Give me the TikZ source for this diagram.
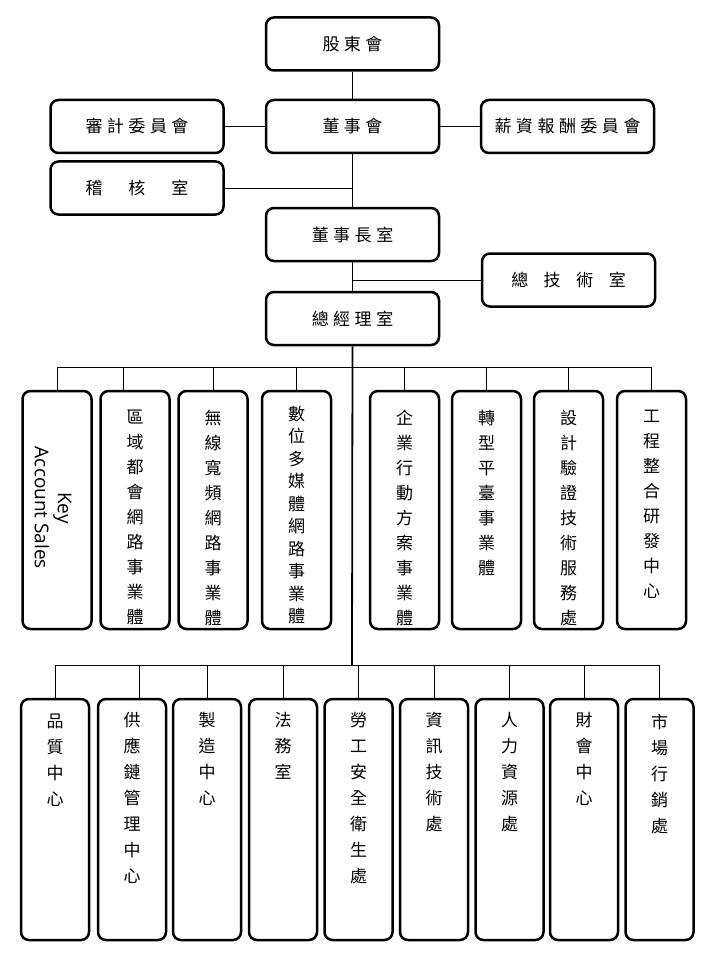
\documentclass[tikz,border=0pt]{standalone}
\usepackage{fontspec}
\newfontfamily\cjk{Noto Sans CJK TC}
\newfontfamily\latf{Open Sans}
\usetikzlibrary{calc}
\newcommand\kgap{\hspace{4.5pt}}
\begin{document}
\begin{tikzpicture}[x=1pt,y=-1pt,
 box/.style={draw, line width=2.5pt, rounded corners=8pt, inner sep=0pt, fill=white},
 topbox/.style={box, minimum width=173pt, minimum height=53pt, font=\cjk\fontsize{17}{20}\selectfont},
 rowa/.style={box, minimum width=69pt, minimum height=238pt},
 rowb/.style={box, minimum width=68pt, minimum height=241pt},
 vt/.style={anchor=north, inner sep=0pt, align=center, font=\cjk\fontsize{17}{25}\selectfont},
 vtb/.style={anchor=north, inner sep=0pt, align=center, font=\cjk\fontsize{17}{26}\selectfont},
 link/.style={line width=0.8pt},
 trunk/.style={line width=1.8pt}]
\useasboundingbox (0,0) rectangle (720,960);
% top section
\node[topbox] (sh) at (352.5,44) {股\kgap 東\kgap 會};
\node[topbox] (aud) at (137,126.5) {審\kgap 計\kgap 委\kgap 員\kgap 會};
\node[topbox] (bod) at (352.5,126.5) {董\kgap 事\kgap 會};
\node[topbox] (comp) at (567.5,126.5) {薪\kgap 資\kgap 報\kgap 酬\kgap 委\kgap 員\kgap 會};
\node[topbox] (audr) at (137,188) {稽\hspace{26pt}核\hspace{26pt}室};
\node[topbox] (chair) at (352.5,234.5) {董\kgap 事\kgap 長\kgap 室};
\node[topbox] (cto) at (568.5,280) {總\hspace{15.5pt}技\hspace{15.5pt}術\hspace{15.5pt}室};
\node[topbox] (gm) at (352.5,318.5) {總\kgap 經\kgap 理\kgap 室};
% row 1
\node[rowa] (ka) at (57,510) {};
\node[rowa] (qy) at (135,510) {};
\node[rowa] (wx) at (213,510) {};
\node[rowa] (sw) at (296.5,510) {};
\node[rowa] (qx) at (404.5,510) {};
\node[rowa] (zx) at (486.5,510) {};
\node[rowa] (sj) at (568.5,510) {};
\node[rowa] (gc) at (651.5,510) {};
\node[rotate=-90, align=center, inner sep=0pt, font=\latf\fontsize{19}{23}\selectfont] (kat) at (53,508) {Key\\Account Sales};
\node[vt] (qyt) at ([yshift=-20pt]qy.north) {區\\域\\都\\會\\網\\路\\事\\業\\體};
\node[vt] (wxt) at ([yshift=-20pt]wx.north) {無\\線\\寬\\頻\\網\\路\\事\\業\\體};
\node[vt, font=\cjk\fontsize{17}{22.5}\selectfont] (swt) at ([yshift=-16pt]sw.north) {數\\位\\多\\媒\\體\\網\\路\\事\\業\\體};
\node[vt] (qxt) at ([yshift=-20pt]qx.north) {企\\業\\行\\動\\方\\案\\事\\業\\體};
\node[vt] (zxt) at ([yshift=-20pt]zx.north) {轉\\型\\平\\臺\\事\\業\\體};
\node[vt] (sjt) at ([yshift=-20pt]sj.north) {設\\計\\驗\\證\\技\\術\\服\\務\\處};
\node[vt] (gct) at ([yshift=-20pt]gc.north) {工\\程\\整\\合\\研\\發\\中\\心};
% row 2
\node[rowb] (pz) at (55,819.5) {};
\node[rowb] (gy) at (132,819.5) {};
\node[rowb] (zz) at (207,819.5) {};
\node[rowb] (fw) at (283,819.5) {};
\node[rowb] (lg) at (358.5,819.5) {};
\node[rowb] (zxj) at (434,819.5) {};
\node[rowb] (rl) at (509.5,819.5) {};
\node[rowb] (ck) at (584,819.5) {};
\node[rowb] (sc) at (659.5,819.5) {};
\node[vtb] (pzt) at ([yshift=-16pt]pz.north) {品\\質\\中\\心};
\node[vtb] (gyt) at ([yshift=-14pt]gy.north) {供\\應\\鏈\\管\\理\\中\\心};
\node[vtb] (zzt) at ([yshift=-14pt]zz.north) {製\\造\\中\\心};
\node[vtb] (fwt) at ([yshift=-14pt]fw.north) {法\\務\\室};
\node[vtb] (lgt) at ([yshift=-14pt]lg.north) {勞\\工\\安\\全\\衛\\生\\處};
\node[vtb] (zxjt) at ([yshift=-14pt]zxj.north) {資\\訊\\技\\術\\處};
\node[vtb] (rlt) at ([yshift=-14pt]rl.north) {人\\力\\資\\源\\處};
\node[vtb] (ckt) at ([yshift=-14pt]ck.north) {財\\會\\中\\心};
\node[vtb] (sct) at ([yshift=-16pt]sc.north) {市\\場\\行\\銷\\處};
% connectors
\draw[link] (sh) -- (bod);
\draw[link] (aud) -- (bod);
\draw[link] (bod) -- (comp);
\draw[link] (bod) -- (chair);
\draw[link] (audr.east) -- (audr.east -| bod.south);
\draw[link] (chair) -- (gm);
\draw[link] (cto.west) -- (cto.west -| chair.south);
\coordinate (bus1) at (352,367);
\coordinate (bus2) at (352,665);
\draw[trunk] (gm.south) -- (bus2);
\coordinate (qyd) at ([xshift=-12pt]qy.north);
\coordinate (gyd) at ([xshift=7pt]gy.north);
\draw[link] (ka.north) -- (ka.north |- bus1) -- (gc.north |- bus1) -- (gc.north);
\draw[link] (qyd) -- (qyd |- bus1);
\foreach \n in {wx,sw,qx,zx,sj} \draw[link] (\n.north) -- (\n.north |- bus1);
\draw[link] (pz.north) -- (pz.north |- bus2) -- (sc.north |- bus2) -- (sc.north);
\draw[link] (gyd) -- (gyd |- bus2);
\foreach \n in {zz,fw,lg,zxj,rl,ck} \draw[link] (\n.north) -- (\n.north |- bus2);
\end{tikzpicture}
\end{document}
